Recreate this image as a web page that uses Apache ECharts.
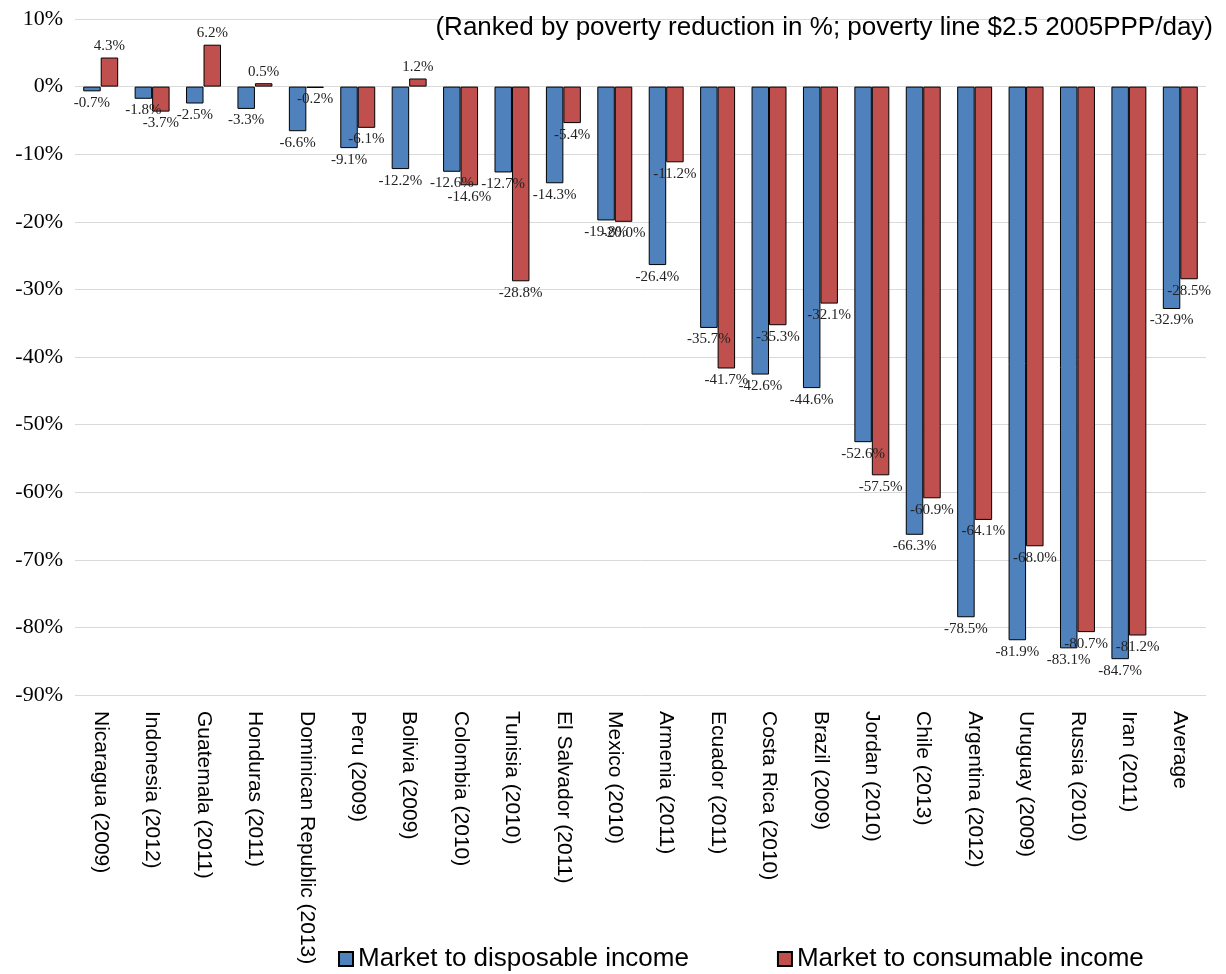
<!DOCTYPE html>
<html><head><meta charset="utf-8">
<script src="https://cdn.jsdelivr.net/npm/echarts@6/dist/echarts.min.js"></script>
<style>html,body{margin:0;padding:0;background:#fff}#c{width:1226px;height:974px}</style>
</head><body><div id="c"></div>
<script>
const categories = ["Nicaragua (2009)","Indonesia (2012)","Guatemala (2011)","Honduras (2011)","Dominican Republic (2013)","Peru (2009)","Bolivia (2009)","Colombia (2010)","Tunisia (2010)","El Salvador (2011)","Mexico (2010)","Armenia (2011)","Ecuador (2011)","Costa Rica (2010)","Brazil (2009)","Jordan (2010)","Chile (2013)","Argentina (2012)","Uruguay (2009)","Russia (2010)","Iran (2011)","Average"];
const disposable = [-0.7,-1.8,-2.5,-3.3,-6.6,-9.1,-12.2,-12.6,-12.7,-14.3,-19.8,-26.4,-35.7,-42.6,-44.6,-52.6,-66.3,-78.5,-81.9,-83.1,-84.7,-32.9];
const consumable = [4.3,-3.7,6.2,0.5,-0.2,-6.1,1.2,-14.6,-28.8,-5.4,-20.0,-11.2,-41.7,-35.3,-32.1,-57.5,-60.9,-64.1,-68.0,-80.7,-81.2,-28.5];
const lbl = {fontFamily:'Liberation Serif, serif',fontSize:15,color:'#222',formatter:p=>p.value.toFixed(1)+'%'};
function mk(arr){return arr.map(v=>({value:v,label:Object.assign({show:true,position:v>=0?'top':'bottom',distance:4},lbl)}));}
const chart = echarts.init(document.getElementById('c'));
chart.setOption({
  animation:false,
  title:{text:'(Ranked by poverty reduction in %; poverty line $2.5 2005PPP/day)',right:8,top:10,textStyle:{fontFamily:'Liberation Sans, Arial',fontSize:26,fontWeight:'normal',color:'#000'}},
  legend:{bottom:-3,left:333,itemGap:88,itemWidth:14,itemHeight:14,icon:'rect',textStyle:{fontFamily:'Liberation Sans, Arial',fontSize:26,color:'#000'},data:['Market to disposable income','Market to consumable income']},
  grid:{left:75,right:20,top:19,bottom:279,containLabel:false},
  xAxis:{type:'category',data:categories,axisTick:{show:false},axisLine:{show:false},
    axisLabel:{rotate:-90,interval:0,fontFamily:'Liberation Sans, Arial',fontSize:21,color:'#000',margin:16}},
  yAxis:{type:'value',min:-90,max:10,interval:10,axisLine:{show:false},axisTick:{show:false},
    axisLabel:{formatter:'{value}%',fontFamily:'Liberation Serif, serif',fontSize:22,color:'#000',margin:12},
    splitLine:{lineStyle:{color:'#d9d9d9'}}},
  series:[
    {name:'Market to disposable income',type:'bar',data:mk(disposable),barGap:'0%',barCategoryGap:'32%',itemStyle:{color:'#4f81bd',borderColor:'#000',borderWidth:1}},
    {name:'Market to consumable income',type:'bar',data:mk(consumable),itemStyle:{color:'#c0504d',borderColor:'#000',borderWidth:1}}
  ]
});
</script></body></html>
